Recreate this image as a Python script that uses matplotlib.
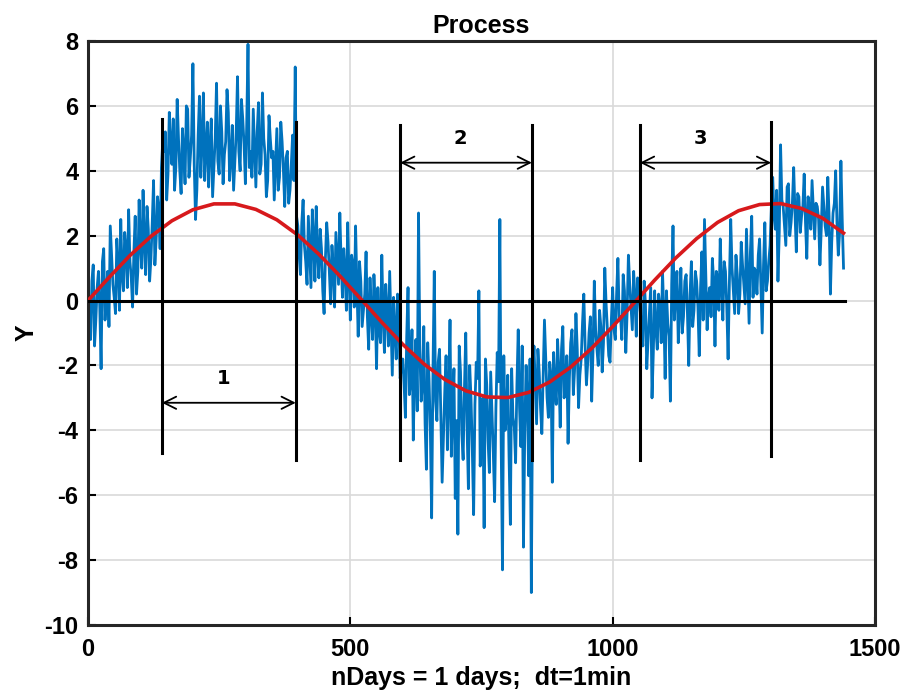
import numpy as np
import matplotlib
matplotlib.use("Agg")
import matplotlib.pyplot as plt

plt.rcParams['font.family'] = ['Liberation Sans', 'DejaVu Sans']
plt.rcParams['axes.unicode_minus'] = False

dt = 2.5  # minutes between samples

# noisy process at t = 0, 5, 10, ... 1440
seg_a = [0.3, -1.2, 1.1, -0.6, 0.9, -2.1, 1.6, 0.2, -0.8, 1.4, 0.1, 1.9, -0.3, 0.8, 2.1,
         0.4, 1.2, -0.2, 2.6, 0.9, 1.7, 3.4, 0.8, 2.2, 1.3, 3.7, 1.9, 2.8, 4.1]
seg_b = [4.6, 3.1, 5.8, 4.2, 3.4, 6.2, 4.0, 5.3, 3.6, 5.9, 4.4, 7.3, 2.5, 5.1, 3.8, 6.4, 4.7,
         3.5, 5.6, 4.1, 6.7, 3.9, 5.2, 4.5, 6.5, 3.7, 5.4, 4.3, 6.9, 4.0, 5.6, 3.6, 7.9, 4.6,
         5.9, 3.5, 6.1, 4.2, 5.0, 3.2, 5.7, 4.4, 3.1, 5.3, 3.8, 4.9, 2.9, 4.6, 3.4, 5.1, 7.2]
seg_c = [2.3, 0.8, 3.1, 1.2, 2.6, 0.4, 1.9, 2.9, 0.7, 1.6, -0.4, 2.4, 0.9, 1.7, -0.2, 1.3,
         2.7, 0.1, 0.9, 2.4, -0.6, 1.1, 2.3, -1.1, 0.6, -0.3, 1.5, -1.5, -0.4, 0.8, -2.1, -0.9,
         1.4, -1.6, -0.3, 0.9, -2.3, -1.0, 0.2, -2.4]
seg_d = [-1.8, -3.6, 0.4, -2.5, -4.3, -1.2, 2.7, -3.1, -0.8, -5.2, -2.4, -6.7, 0.9, -3.7,
         -1.5, -5.6, -2.8, -4.6, -0.6, -3.3, -6.1, -7.2, -2.2, -4.9, -1.0, -5.8, -3.0, -6.6,
         -1.9, 0.3, -4.4, -7.0, -2.6, -5.3, -3.4, -6.2, -1.6, 2.5, -8.3, -4.0, -2.3, -6.9,
         -3.6, -5.0, -0.9, -4.5, -7.6, -2.0, -5.4, -9.0]
seg_e = [-1.4, -3.8, -2.2, -4.1, -0.6, -3.0, -1.9, -5.6, -2.7, -1.2, -3.9, -0.8, -2.5, -4.4,
         -1.3, -2.9, -0.4, -3.3, -1.8, 0.2, -2.6, -1.0, -3.1, 0.6, -1.5, -0.3, -2.2, 1.0, -0.9,
         -1.9, 0.4, -1.2, 1.3, -0.5, 0.8, -1.6, 1.4, -0.2, 0.9, -1.1, 0.3]
seg_f = [-0.8, 0.6, -2.1, -0.4, -3.0, 0.3, -1.5, -0.2, 0.9, -2.4, -0.7, -3.1, 2.3, 0.2, -1.3,
         1.0, -0.5, 0.8, -2.0, 1.2, -0.3, 0.6, -1.7, 1.5, 2.5, -0.9, 0.4, 1.3, -1.4, 0.7, 1.9,
         -0.6, 0.9, -1.8, 2.5, 0.3, 1.4, -0.4, 1.8, 0.5, 2.2, -0.7, 2.6, 1.0, 0.2, 1.9, -1.0,
         2.4, 0.6, 1.7]
seg_g = [3.8, 2.2, 0.6, 4.8, 2.9, 1.7, 3.6, 2.4, 4.1, 1.5, 3.2, 2.6, 3.9, 1.3, 2.8, 3.7, 1.9,
         2.9, 1.1, 3.5, 2.3, 3.8, 0.2, 2.7, 4.0, 1.4, 4.3, 1.0]

# the samples in between, at t = 2.5, 7.5, ... 1437.5
mid_a = [-0.5, 0.6, -1.4, 0.4, -0.2, 1.2, -0.6, 0.9, 2.3, 0.5, -0.4, 1.1, 2.5, 0.3, 1.6,
         2.8, 0.7, 1.5, 0.2, 3.1, 1.0, 1.8, 2.9, 0.6, 2.4, 1.1, 3.2, 1.6, 4.9]
mid_b = [5.2, 3.9, 4.8, 5.6, 4.1, 5.0, 3.3, 4.6, 6.0, 3.8, 5.1, 4.2, 3.4, 6.3, 4.9, 3.7, 5.5,
         4.8, 3.2, 5.0, 4.3, 6.0, 3.6, 4.9, 5.8, 4.4, 3.4, 5.2, 4.6, 6.2, 4.8, 5.4, 4.1, 3.8,
         4.7, 5.2, 3.9, 6.4, 4.5, 3.7, 5.0, 4.6, 4.2, 3.4, 5.5, 4.0, 4.4, 3.0, 4.2, 3.7, 2.6]
mid_c = [1.4, 2.4, 1.7, 0.5, 1.5, 2.8, 0.6, 1.5, 2.2, 0.3, 1.3, 1.8, -0.1, 1.0, 2.1, 0.5,
         1.2, 1.6, -0.3, 0.8, 1.4, -0.2, 0.5, 1.2, -0.8, 0.2, -0.5, 0.7, -1.2, -0.2, 0.4, -1.3,
         -0.5, 0.5, -1.4, -0.7, 0.1, -1.8, -0.6, -2.0]
mid_d = [-2.6, -1.1, -2.9, -0.9, -2.1, -3.4, -1.5, -2.6, -3.8, -1.3, -4.0, -2.2, -3.1, -1.9,
         -3.5, -4.2, -1.7, -2.9, -4.8, -2.1, -3.7, -1.4, -4.1, -2.7, -3.9, -2.0, -4.6, -3.2,
         -2.4, -5.1, -3.0, -1.8, -4.3, -2.2, -4.7, -3.3, -2.5, -4.4, -1.7, -3.6, -4.8, -2.1,
         -3.9, -2.6, -3.3, -1.4, -4.0, -3.1, -1.8, -2.5]
mid_e = [-2.6, -1.5, -3.3, -2.4, -1.8, -3.6, -2.3, -1.6, -3.2, -2.2, -1.5, -3.0, -1.7, -2.4,
         -0.9, -2.1, -1.5, -2.3, -0.7, -1.4, -1.9, -0.5, -1.6, -0.9, -2.0, -0.8, -1.3, -0.1,
         -1.7, -0.6, -0.9, 0.2, -0.6, -1.2, 0.3, -0.4, 0.5, -0.9, 0.1, 0.7, -0.3]
mid_f = [-1.4, -0.1, -1.2, 0.4, -1.6, -0.9, 0.2, -1.3, -0.4, 0.3, -1.1, 0.5, -0.6, 0.9, -0.2,
         -1.0, 0.6, -0.4, 0.2, -0.8, 0.9, -0.2, 0.4, -0.6, 0.8, 0.1, -0.5, 0.6, 0.9, -0.3, 0.5,
         1.2, -0.2, 0.6, 1.0, -0.4, 0.8, 0.2, 1.1, -0.1, 0.7, 1.5, 0.1, 0.9, 1.4, 0.4, 1.1, 0.3,
         1.2, 2.9]
mid_g = [2.6, 3.4, 2.1, 3.1, 2.3, 3.5, 2.0, 3.0, 2.7, 3.3, 2.1, 2.9, 2.4, 3.2, 2.2, 2.8, 3.0,
         2.5, 2.2, 2.9, 2.0, 2.6, 1.8, 3.0, 2.4, 2.1, 2.5]

on_grid = seg_a + seg_b + seg_c + seg_d + seg_e + seg_f + seg_g
between = mid_a + mid_b + mid_c + mid_d + mid_e + mid_f + mid_g
process = np.empty(len(on_grid) + len(between))
process[0::2] = on_grid
process[1::2] = between
t_proc = np.arange(len(process)) * dt

# smooth trend, read every 40 minutes
t_trend = np.arange(0, 1441, 40)
trend = [0, 0.71, 1.39, 1.98, 2.46, 2.80, 2.98, 2.98, 2.81, 2.49, 2.02, 1.43, 0.76, 0.05,
         -0.67, -1.35, -1.95, -2.43, -2.78, -2.97, -2.99, -2.83, -2.51, -2.05, -1.47, -0.80,
         -0.09, 0.63, 1.31, 1.91, 2.41, 2.77, 2.96, 2.99, 2.84, 2.54, 2.08]

# window borders and their vertical extent
borders = [141, 396, 595, 846, 1052, 1302]
border_top = [5.6, 5.5, 5.4, 5.4, 5.4, 5.5]
border_bot = [-4.7, -4.9, -4.9, -4.9, -4.9, -4.8]

# arrows: (start, end, y, label)
arrows = [(141, 396, -3.15, "1"), (595, 846, 4.25, "2"), (1052, 1302, 4.25, "3")]

fig = plt.figure(figsize=(9.06, 6.93), dpi=100)
ax = fig.add_axes([0.0971, 0.0981, 0.8687, 0.8427])

ax.plot(t_proc, process, color='#0072BD', lw=2.0, zorder=2)
ax.plot(t_trend, trend, color='#D7191C', lw=2.6, zorder=3)
ax.plot([0, 1443], [0, 0], color='black', lw=2.2, zorder=4)
for x, top, bot in zip(borders, border_top, border_bot):
    ax.plot([x, x], [bot, top], color='black', lw=2.2, zorder=4)

for x0, x1, y, lab in arrows:
    ax.annotate("", xy=(x1, y), xytext=(x0, y),
                arrowprops=dict(arrowstyle='<->', color='black', lw=1.3,
                                mutation_scale=22, shrinkA=0, shrinkB=0), zorder=5)
    ax.text((x0 + x1) / 2 - 10, y + 0.45, lab, ha='center', va='bottom',
            fontsize=14, fontweight='bold', family='DejaVu Sans')

ax.set_xlim(0, 1500)
ax.set_ylim(-10, 8)
ax.set_xticks([0, 500, 1000, 1500])
ax.set_yticks(range(-10, 9, 2))
ax.grid(True, color='#d9d9d9', lw=1.2)
ax.set_axisbelow(True)
ax.tick_params(direction='in', length=6, width=1.5, labelsize=17)
ax.tick_params(axis='x', pad=9)
ax.tick_params(axis='y', pad=7)
for lab in ax.get_xticklabels() + ax.get_yticklabels():
    lab.set_fontweight('bold')
for sp in ax.spines.values():
    sp.set_linewidth(2.2)
    sp.set_color('#262626')

ax.set_title("Process", fontsize=18, fontweight='bold', pad=6)
ax.set_xlabel("nDays = 1 days;  dt=1min", fontsize=18, fontweight='bold', labelpad=4)
ax.set_ylabel("Y", fontsize=18, fontweight='bold', labelpad=4)

fig.savefig("out.png", dpi=100)
